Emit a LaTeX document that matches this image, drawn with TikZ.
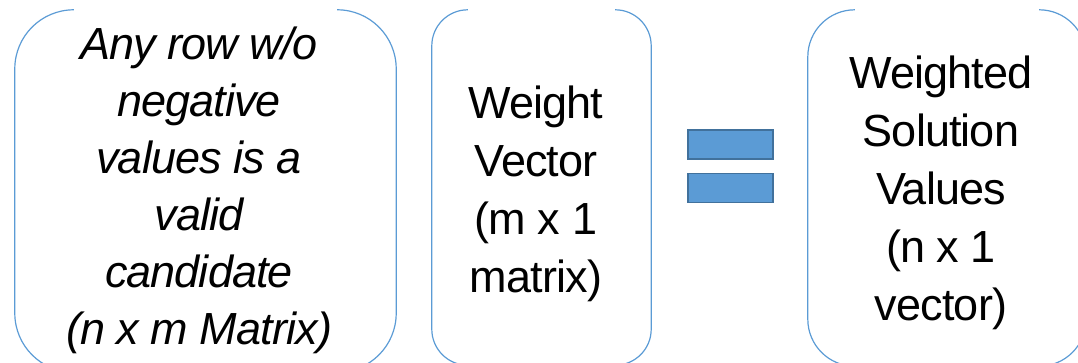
\documentclass[tikz,border=0pt]{standalone}
\usepackage{fontspec}
\setmainfont[LetterSpace=-2]{Liberation Sans}
\usetikzlibrary{positioning}
\definecolor{boxBlue}{RGB}{91, 155, 213}
\definecolor{barEdge}{RGB}{65, 113, 156}
\tikzset{
    openBox/.style={draw=boxBlue, line width=1.2pt},
    boxShape/.style={inner sep=0pt},
    boxText/.style={align=center, inner sep=0pt, font=\fontsize{45}{58}\selectfont},
    candText/.style={boxText, font=\fontsize{45}{57}\selectfont\itshape},
    eqBar/.style={draw=barEdge, fill=boxBlue, line width=1.5pt,
        minimum width=85pt, minimum height=29pt, inner sep=0pt},
}
% outline of a box whose top edge is left open
\newcommand{\drawOpenBox}[2]{%
    \draw[openBox, rounded corners=#2] ([xshift=#2]#1.north west) -- (#1.north west)
        -- (#1.south west) -- (#1.south east) -- (#1.north east) -- ([xshift=-#2]#1.north east);}

\begin{document}
\begin{tikzpicture}[x=1pt, y=-1pt]
    \useasboundingbox (0,0) rectangle (1078,363);

    % LEFT BOX: CANDIDATES
    \node[boxShape, minimum width=381pt, minimum height=362pt] (cand) at (205.5,191) {};
    \drawOpenBox{cand}{59pt}
    \node[candText] (candLbl) at (199,190) 
        {Any row w/o\\negative\\values is a\\valid\\candidate\\(n x m Matrix)};

    % MIDDLE BOX: WEIGHTS
    \node[boxShape, minimum width=219pt, minimum height=355pt] (wvec) at (541.5,187.5) {};
    \drawOpenBox{wvec}{36pt}
    \node[boxText] (wvecLbl) at (536,194) {Weight\\Vector\\(m x 1\\matrix)};

    % EQUALS SIGN
    \node[eqBar] (eqTop) at (730.5,144.5) {};
    \node[eqBar, below=13pt of eqTop] (eqBot) {};

    % RIGHT BOX: RESULT
    \node[boxShape, minimum width=278pt, minimum height=356pt] (sol) at (947,188) {};
    \drawOpenBox{sol}{47pt}
    \node[boxText] (solLbl) at (941,193) {Weighted\\Solution\\Values\\(n x 1\\vector)};

\end{tikzpicture}
\end{document}
